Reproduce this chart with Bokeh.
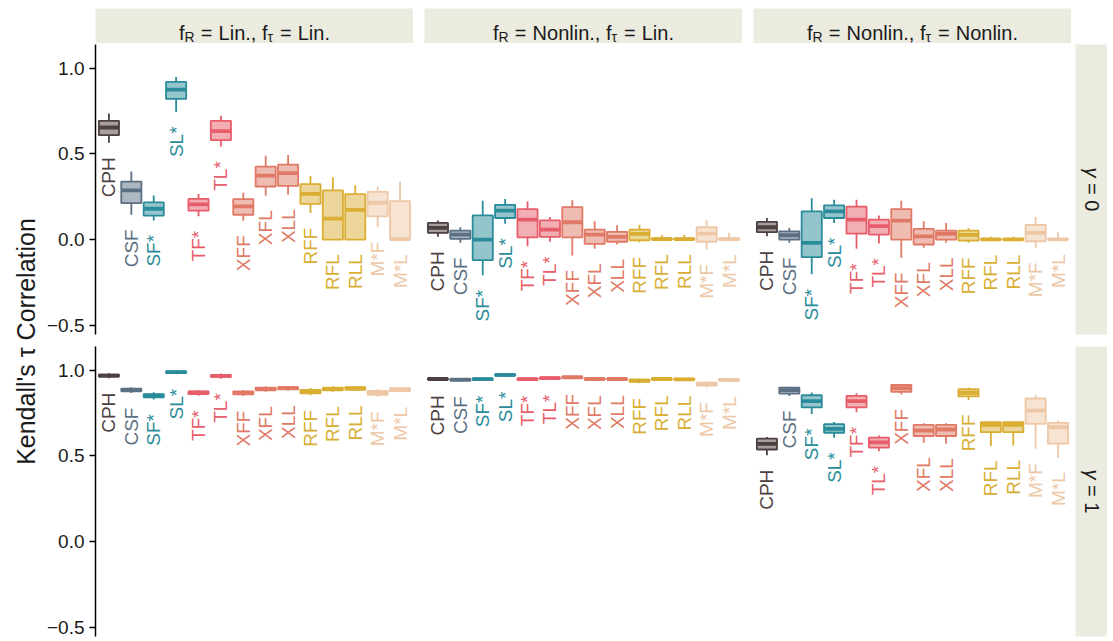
import math
from bokeh.plotting import figure
from bokeh.layouts import row, column
from bokeh.models import Range1d, LinearAxis, FixedTicker, ColumnDataSource, Label
from bokeh.core.properties import value
from bokeh.embed import file_html
from bokeh.resources import INLINE

FONT = "Liberation Sans"
STRIP_BG = "#EBEBE0"

# ---------------- data ----------------
categories = ["CPH", "CSF", "SF*", "SL*", "TF*", "TL*", "XFF", "XFL", "XLL",
              "RFF", "RFL", "RLL", "M*F", "M*L"]
category_colors = ["#4D4040", "#5B7083", "#2A8C9A", "#2A8C9A", "#E85D6A", "#E85D6A",
                   "#E07A66", "#E07A66", "#E07A66", "#D9AE33", "#D9AE33", "#D9AE33",
                   "#EDC7A6", "#EDC7A6"]
col_fR = ["Lin.", "Nonlin.", "Nonlin."]
col_ftau = ["Lin.", "Lin.", "Nonlin."]
row_gamma = ["0", "1"]
y_ticks = [-0.5, 0.0, 0.5, 1.0]
y_tick_labels = ["\u22120.5", "0.0", "0.5", "1.0"]
y_title = "Kendall's \u03c4 Correlation"

# gamma = 0, fR = Lin., ftau = Lin.
g0_c0_lo  = [0.566, 0.145, 0.112, 0.746, 0.136, 0.543, 0.110, 0.256, 0.262, 0.155, 0.000, 0.000, 0.072, 0.000]
g0_c0_q1  = [0.610, 0.213, 0.140, 0.822, 0.169, 0.581, 0.145, 0.310, 0.314, 0.208, 0.000, 0.000, 0.136, 0.000]
g0_c0_med = [0.655, 0.287, 0.180, 0.876, 0.205, 0.634, 0.194, 0.374, 0.388, 0.267, 0.122, 0.173, 0.215, 0.003]
g0_c0_q3  = [0.694, 0.339, 0.217, 0.921, 0.238, 0.694, 0.236, 0.426, 0.438, 0.324, 0.287, 0.266, 0.279, 0.225]
g0_c0_hi  = [0.737, 0.397, 0.258, 0.950, 0.266, 0.723, 0.275, 0.490, 0.494, 0.372, 0.364, 0.318, 0.310, 0.339]

# gamma = 0, fR = Nonlin., ftau = Lin.
g0_c1_lo  = [0.016, -0.019, -0.209, 0.093, -0.039, -0.013, -0.093, -0.054, -0.029, -0.016, 0.000, 0.000, -0.058, 0.000]
g0_c1_q1  = [0.039, 0.004, -0.120, 0.126, 0.013, 0.016, 0.013, -0.025, -0.013, -0.004, 0.000, 0.000, -0.013, 0.000]
g0_c1_med = [0.068, 0.029, 0.000, 0.169, 0.116, 0.058, 0.101, 0.029, 0.016, 0.033, 0.003, 0.003, 0.035, 0.002]
g0_c1_q3  = [0.097, 0.052, 0.141, 0.203, 0.178, 0.112, 0.190, 0.058, 0.045, 0.058, 0.007, 0.007, 0.072, 0.006]
g0_c1_hi  = [0.112, 0.072, 0.227, 0.237, 0.223, 0.132, 0.229, 0.107, 0.083, 0.087, 0.025, 0.028, 0.112, 0.039]

# gamma = 0, fR = Nonlin., ftau = Nonlin.
g0_c2_lo  = [0.019, -0.019, -0.203, 0.097, -0.054, -0.023, -0.107, -0.048, -0.019, -0.019, -0.003, -0.003, -0.048, 0.000]
g0_c2_q1  = [0.043, 0.000, -0.103, 0.126, 0.035, 0.029, 0.000, -0.029, 0.000, -0.006, -0.002, -0.002, -0.010, 0.000]
g0_c2_med = [0.072, 0.025, -0.019, 0.165, 0.116, 0.078, 0.110, 0.019, 0.033, 0.027, 0.001, 0.001, 0.039, 0.001]
g0_c2_q3  = [0.103, 0.048, 0.165, 0.200, 0.192, 0.116, 0.178, 0.062, 0.052, 0.052, 0.004, 0.004, 0.085, 0.004]
g0_c2_hi  = [0.126, 0.068, 0.242, 0.233, 0.233, 0.140, 0.227, 0.107, 0.097, 0.068, 0.016, 0.016, 0.132, 0.043]

# gamma = 1, fR = Lin., ftau = Lin.
g1_c0_lo  = [0.955, 0.868, 0.830, 0.978, 0.852, 0.952, 0.850, 0.876, 0.882, 0.855, 0.876, 0.880, 0.845, 0.872]
g1_c0_q1  = [0.964, 0.878, 0.843, 0.984, 0.862, 0.962, 0.860, 0.884, 0.890, 0.866, 0.884, 0.887, 0.858, 0.880]
g1_c0_med = [0.970, 0.886, 0.853, 0.990, 0.870, 0.968, 0.868, 0.892, 0.897, 0.876, 0.892, 0.895, 0.868, 0.888]
g1_c0_q3  = [0.976, 0.893, 0.862, 0.994, 0.877, 0.974, 0.877, 0.899, 0.903, 0.887, 0.899, 0.902, 0.880, 0.896]
g1_c0_hi  = [0.984, 0.902, 0.872, 0.998, 0.886, 0.982, 0.886, 0.906, 0.909, 0.898, 0.906, 0.908, 0.890, 0.905]

# gamma = 1, fR = Nonlin., ftau = Lin.
g1_c1_lo  = [0.940, 0.935, 0.938, 0.962, 0.938, 0.944, 0.948, 0.940, 0.940, 0.925, 0.940, 0.938, 0.900, 0.935]
g1_c1_q1  = [0.946, 0.941, 0.944, 0.969, 0.944, 0.950, 0.955, 0.946, 0.946, 0.934, 0.946, 0.944, 0.912, 0.940]
g1_c1_med = [0.950, 0.946, 0.949, 0.974, 0.949, 0.955, 0.960, 0.950, 0.950, 0.940, 0.950, 0.948, 0.920, 0.945]
g1_c1_q3  = [0.954, 0.950, 0.954, 0.979, 0.954, 0.960, 0.965, 0.954, 0.954, 0.946, 0.954, 0.952, 0.928, 0.950]
g1_c1_hi  = [0.960, 0.955, 0.958, 0.985, 0.958, 0.965, 0.970, 0.958, 0.958, 0.952, 0.958, 0.956, 0.935, 0.956]

# gamma = 1, fR = Nonlin., ftau = Nonlin.
g1_c2_lo  = [0.505, 0.851, 0.746, 0.607, 0.755, 0.528, 0.860, 0.578, 0.572, 0.828, 0.559, 0.562, 0.543, 0.490]
g1_c2_q1  = [0.538, 0.865, 0.784, 0.636, 0.784, 0.549, 0.875, 0.617, 0.617, 0.848, 0.640, 0.640, 0.688, 0.572]
g1_c2_med = [0.571, 0.885, 0.821, 0.659, 0.821, 0.580, 0.896, 0.649, 0.655, 0.869, 0.682, 0.682, 0.765, 0.669]
g1_c2_q3  = [0.601, 0.900, 0.855, 0.686, 0.851, 0.607, 0.915, 0.682, 0.682, 0.890, 0.698, 0.698, 0.836, 0.694]
g1_c2_hi  = [0.611, 0.905, 0.871, 0.698, 0.867, 0.620, 0.920, 0.692, 0.692, 0.900, 0.700, 0.700, 0.855, 0.707]

panel_stats = {
    (0, 0): (g0_c0_lo, g0_c0_q1, g0_c0_med, g0_c0_q3, g0_c0_hi),
    (0, 1): (g0_c1_lo, g0_c1_q1, g0_c1_med, g0_c1_q3, g0_c1_hi),
    (0, 2): (g0_c2_lo, g0_c2_q1, g0_c2_med, g0_c2_q3, g0_c2_hi),
    (1, 0): (g1_c0_lo, g1_c0_q1, g1_c0_med, g1_c0_q3, g1_c0_hi),
    (1, 1): (g1_c1_lo, g1_c1_q1, g1_c1_med, g1_c1_q3, g1_c1_hi),
    (1, 2): (g1_c2_lo, g1_c2_q1, g1_c2_med, g1_c2_q3, g1_c2_hi),
}

# ---------------- layout constants ----------------
FW = 318          # panel frame width
FH = 290          # panel frame height
SH = 35           # strip height
PAGE_TOP = 8
TITLE_W = 42
LEFT_BORDERS = [53, 11, 11]
TOP_BORDERS = [1, 9]
BOTTOM_BORDER = 3
RSTRIP_GAP = 4
RSTRIP_W = 32
YMIN, YMAX = -0.555, 1.14
BOX_HALF = 0.45
LABEL_GAP = 0.085
INK = "#1A1A1A"

CHAR_W = {' ': 0.278, 'f': 0.278, 'R': 0.722, '=': 0.584, 'L': 0.556, 'i': 0.222,
          'n': 0.556, '.': 0.278, ',': 0.278, 'N': 0.722, 'o': 0.556, 'l': 0.222,
          '\u03c4': 0.45, '\u03b3': 0.5, '0': 0.556, '1': 0.556}


def tw(s, size):
    return sum(CHAR_W.get(c, 0.556) for c in s) * size


def base_fig(width, height, xr, yr, left=0, top=0, bottom=0, bg="white"):
    p = figure(width=width, height=height, x_range=Range1d(*xr), y_range=Range1d(*yr),
               output_backend="svg", toolbar_location=None,
               x_axis_location=None, y_axis_location=None,
               min_border_left=left, min_border_right=0, min_border_top=top,
               min_border_bottom=bottom, background_fill_color=bg,
               border_fill_color="white")
    p.outline_line_color = None
    p.xgrid.visible = False
    p.ygrid.visible = False
    return p


def box_panel(r, c):
    lo, q1, med, q3, hi = panel_stats[(r, c)]
    lb, tb = LEFT_BORDERS[c], TOP_BORDERS[r]
    p = base_fig(lb + FW, tb + FH + BOTTOM_BORDER, (0.4, len(categories) + 0.6), (YMIN, YMAX),
                 left=lb, top=tb, bottom=BOTTOM_BORDER)
    xs = list(range(1, len(categories) + 1))
    src = ColumnDataSource(dict(
        x=xs, lo=lo, q1=q1, med=med, q3=q3, hi=hi,
        left=[x - BOX_HALF for x in xs], right=[x + BOX_HALF for x in xs],
        color=category_colors, label=categories,
        label_y=[v - LABEL_GAP for v in lo]))
    p.segment(x0="x", y0="q3", x1="x", y1="hi", line_color="color", line_width=1.8, source=src)
    p.segment(x0="x", y0="lo", x1="x", y1="q1", line_color="color", line_width=1.8, source=src)
    p.quad(left="left", right="right", bottom="q1", top="q3", fill_color="color",
           fill_alpha=0.5, line_color="color", line_width=1.8, source=src)
    p.segment(x0="left", y0="med", x1="right", y1="med", line_color="color",
              line_width=3.8, source=src)
    p.text(x="x", y="label_y", text="label", angle=math.pi / 2, text_align="right",
           text_baseline="middle", text_color="color", text_font=value(FONT),
           text_font_size="19px", source=src)
    if c == 0:
        ax = LinearAxis(ticker=FixedTicker(ticks=y_ticks),
                        major_label_overrides=dict(zip(y_ticks, y_tick_labels)),
                        axis_line_color="black", axis_line_width=1.5,
                        major_tick_line_color="black", major_tick_line_width=1.5,
                        major_tick_in=0, major_tick_out=6,
                        minor_tick_line_color=None,
                        major_label_text_font=FONT, major_label_text_font_size="19px",
                        major_label_text_color=INK, major_label_standoff=5)
        p.add_layout(ax, "left")
    return p


def strip_fig(c):
    lb = LEFT_BORDERS[c]
    p = base_fig(lb + FW, PAGE_TOP + SH, (0, FW), (0, SH), left=lb, top=PAGE_TOP, bg=STRIP_BG)
    big, small, sub = 20, 14, -4
    sp = tw(" ", big) * 1.1
    pieces = [("f", big, 0, 0.0), ("R", small, sub, 0.0),
              ("=", big, 0, sp), (col_fR[c] + ", f", big, 0, sp), ("\u03c4", small, sub, 0.0),
              ("=", big, 0, sp), (col_ftau[c], big, 0, sp)]
    total = sum(tw(s, sz) + gap for s, sz, _, gap in pieces)
    x = (FW - total) / 2
    base = 11.0
    for s, sz, dy, gap in pieces:
        x += gap
        p.add_layout(Label(x=x, y=base + dy, text=s, text_align="left",
                           text_baseline="alphabetic", text_color=INK, text_font=FONT,
                           text_font_size=f"{sz}px"))
        x += tw(s, sz)
    return p


def rstrip_fig(r):
    tb = TOP_BORDERS[r]
    p = base_fig(RSTRIP_GAP + RSTRIP_W, tb + FH + BOTTOM_BORDER, (0, RSTRIP_W), (0, FH),
                 left=RSTRIP_GAP, top=tb, bottom=BOTTOM_BORDER, bg=STRIP_BG)
    size = 20
    g = "\u03b3"
    rest = "= " + row_gamma[r]
    total = tw(g, size) + tw(" ", size) + tw(rest, size)
    y = FH / 2 + total / 2
    p.add_layout(Label(x=RSTRIP_W / 2, y=y, text=g, angle=-math.pi / 2, text_align="left",
                       text_baseline="middle", text_color=INK, text_font=FONT,
                       text_font_size=f"{size}px", text_font_style="italic"))
    y -= tw(g, size) + tw(" ", size)
    p.add_layout(Label(x=RSTRIP_W / 2, y=y, text=rest, angle=-math.pi / 2, text_align="left",
                       text_baseline="middle", text_color=INK, text_font=FONT,
                       text_font_size=f"{size}px"))
    return p


panels_h = TOP_BORDERS[0] + FH + BOTTOM_BORDER + TOP_BORDERS[1] + FH + BOTTOM_BORDER
total_h = PAGE_TOP + SH + panels_h
title = base_fig(TITLE_W, total_h, (0, TITLE_W), (0, total_h))
title.add_layout(Label(x=25, y=panels_h / 2, text=y_title, angle=math.pi / 2,
                       text_align="center", text_baseline="middle", text_color=INK,
                       text_font=FONT, text_font_size="25px"))

strips = row(*[strip_fig(c) for c in range(3)])
row0 = row(*[box_panel(0, c) for c in range(3)], rstrip_fig(0))
row1 = row(*[box_panel(1, c) for c in range(3)], rstrip_fig(1))
layout = row(title, column(strips, row0, row1))

open("out.html", "w").write(file_html(layout, INLINE))
